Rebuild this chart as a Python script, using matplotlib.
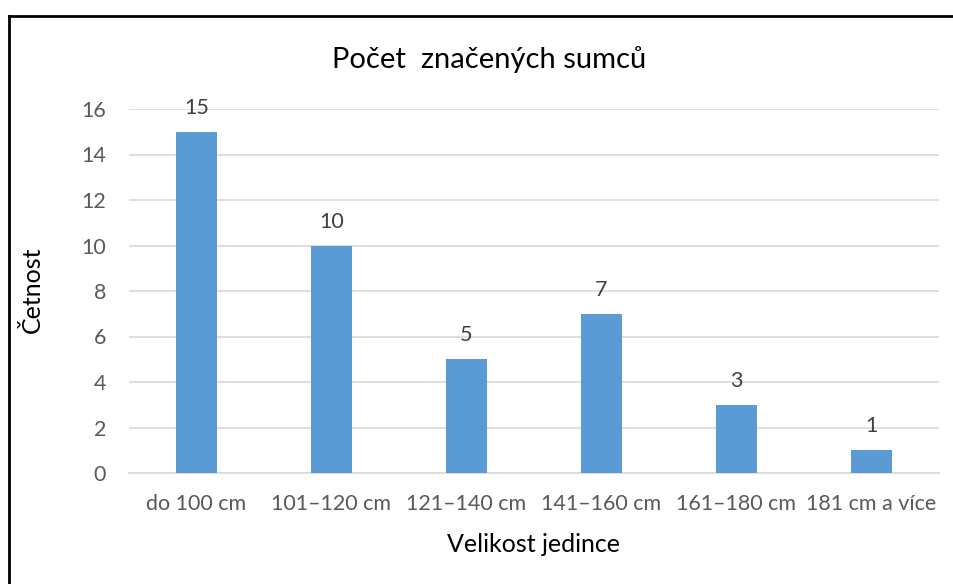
import matplotlib
matplotlib.use("Agg")
import matplotlib.pyplot as plt
from matplotlib.lines import Line2D

categories = ["do 100 cm", "101–120 cm", "121–140 cm", "141–160 cm", "161–180 cm", "181 cm a více"]
values = [15, 10, 5, 7, 3, 1]
yticks = [0, 2, 4, 6, 8, 10, 12, 14, 16]
title = "Počet  značených sumců"
xlabel = "Velikost jedince"
ylabel = "Četnost"

plt.rcParams['font.family'] = ['Lato', 'DejaVu Sans']

W, H = 954, 584
fig = plt.figure(figsize=(W / 100, H / 100), dpi=100)
ax = fig.add_axes([129 / W, 1 - 473 / H, 810 / W, 364 / H])

x = list(range(len(categories)))
bars = ax.bar(x, values, width=0.31, color="#5B9BD5", zorder=3)
ax.set_xlim(-0.5, len(categories) - 0.5)
ax.set_ylim(0, 16)
ax.set_yticks(yticks)
ax.set_xticks(x)
ax.set_xticklabels(categories)
ax.grid(axis="y", color="#D9D9D9", linewidth=1.2, zorder=0)
for s in ["top", "right", "left"]:
    ax.spines[s].set_visible(False)
ax.spines["bottom"].set_color("#D9D9D9")
ax.spines["bottom"].set_linewidth(1.2)
ax.tick_params(axis="both", length=0, labelsize=15.5, colors="#595959")
ax.tick_params(axis="y", pad=16.5)
ax.tick_params(axis="x", pad=15)

for xi, v in zip(x, values):
    ax.annotate(str(v), (xi, v), xytext=(0, 10), textcoords="offset points",
                ha="center", va="bottom", fontsize=15.5, color="#404040")

fig.text(489 / W, 1 - 60 / H, title, ha="center", va="center", fontsize=21, color="#000000")
fig.text(534 / W, 1 - 545 / H, xlabel, ha="center", va="center", fontsize=18, color="#000000")
fig.text(32 / W, 1 - 290 / H, ylabel, ha="center", va="center", rotation=90, fontsize=18, color="#000000")

# outer frame (left and top edges visible)
fig.add_artist(Line2D([9 / W, 9 / W], [0, 1 - 16 / H], transform=fig.transFigure, color="black", linewidth=2))
fig.add_artist(Line2D([9 / W, 1], [1 - 16 / H, 1 - 16 / H], transform=fig.transFigure, color="black", linewidth=2))

fig.savefig("out.png", dpi=100)
